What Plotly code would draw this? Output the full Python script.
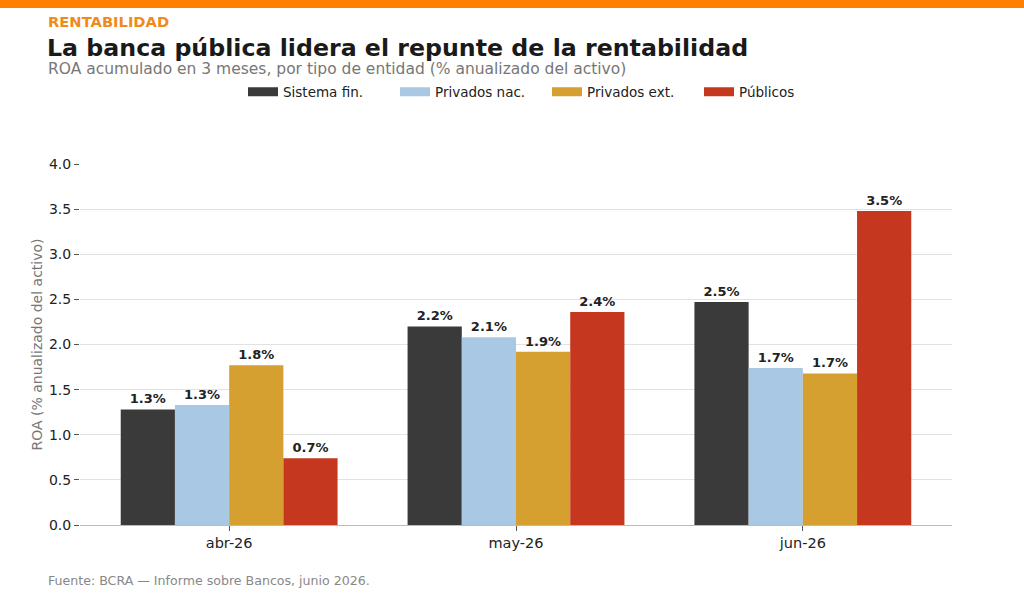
import plotly.graph_objects as go

meses = ["abr-26", "may-26", "jun-26"]
series = ["Sistema fin.", "Privados nac.", "Privados ext.", "Públicos"]
sistema = [1.28, 2.20, 2.47]
privados_nac = [1.33, 2.08, 1.74]
privados_ext = [1.77, 1.92, 1.68]
publicos = [0.74, 2.36, 3.48]
colores = ["#3a3a3a", "#a8c8e4", "#d6a030", "#c5381f"]

W, H = 1024, 597
L, R, T, B = 80, 72, 164, 72
PW, PH = W - L - R, H - T - B


def px(x):
    return (x - L) / PW


def py(y):
    return (H - B - y) / PH


FONT = "DejaVu Sans"

fig = go.Figure()
for nombre, valores, color in zip(series, [sistema, privados_nac, privados_ext, publicos], colores):
    fig.add_trace(
        go.Bar(
            x=meses,
            y=valores,
            name=nombre,
            showlegend=False,
            marker=dict(color=color, line=dict(width=0)),
            texttemplate="<b>%{y:.1f}%</b>",
            textposition="outside",
            textfont=dict(size=13, color="#222222", family=FONT),
            cliponaxis=False,
        )
    )

# entradas de leyenda con rectangulos anchos, como en el original
for nombre, color in zip(series, colores):
    fig.add_trace(
        go.Scatter(
            x=[None], y=[None], mode="lines", name=nombre,
            line=dict(color=color, width=9), hoverinfo="skip",
        )
    )

fig.update_layout(
    width=W,
    height=H,
    margin=dict(l=L, r=R, t=T, b=B),
    paper_bgcolor="white",
    plot_bgcolor="white",
    font=dict(family=FONT, color="#222222"),
    barmode="group",
    bargap=0.244,
    bargroupgap=0,
    showlegend=True,
    legend=dict(
        orientation="h",
        x=px(243),
        xanchor="left",
        y=py(92),
        yanchor="middle",
        font=dict(size=13.5, color="#222222"),
        itemwidth=30,
        entrywidth=107,
        traceorder="normal",
    ),
    xaxis=dict(
        range=[-0.52, 2.52],
        showgrid=False,
        showline=True,
        linecolor="#bbbbbb",
        linewidth=1,
        ticks="outside",
        ticklen=5,
        tickcolor="#555555",
        tickfont=dict(size=14.5, color="#222222"),
    ),
    yaxis=dict(
        range=[0, 4.0],
        tickvals=[0, 0.5, 1.0, 1.5, 2.0, 2.5, 3.0, 3.5, 4.0],
        tickformat=".1f",
        showgrid=True,
        gridcolor="#e2e2e2",
        gridwidth=1,
        zeroline=False,
        showline=False,
        ticks="outside",
        ticklen=5,
        tickcolor="#555555",
        tickfont=dict(size=14, color="#222222"),
        title=dict(
            text="ROA (% anualizado del activo)",
            font=dict(size=14, color="#777777"),
            standoff=3,
        ),
    ),
)

fig.add_shape(
    type="rect", xref="paper", yref="paper",
    x0=px(0), x1=px(W), y0=py(8), y1=py(0),
    fillcolor="#ff8000", line=dict(width=0), layer="above",
)

fig.add_annotation(
    text="<b>RENTABILIDAD</b>", xref="paper", yref="paper",
    x=px(46), y=py(21), xanchor="left", yanchor="middle", showarrow=False,
    font=dict(size=14.7, color="#f08a1c"),
)
fig.add_annotation(
    text="<b>La banca pública lidera el repunte de la rentabilidad</b>",
    xref="paper", yref="paper",
    x=px(45), y=py(48), xanchor="left", yanchor="middle", showarrow=False,
    font=dict(size=23.7, color="#1a1a1a"),
)
fig.add_annotation(
    text="ROA acumulado en 3 meses, por tipo de entidad (% anualizado del activo)",
    xref="paper", yref="paper",
    x=px(46), y=py(69), xanchor="left", yanchor="middle", showarrow=False,
    font=dict(size=15.5, color="#777777"),
)
fig.add_annotation(
    text="Fuente: BCRA — Informe sobre Bancos, junio 2026.",
    xref="paper", yref="paper",
    x=px(46), y=py(580), xanchor="left", yanchor="middle", showarrow=False,
    font=dict(size=12.6, color="#888888"),
)

fig.write_html(
    "out.html",
    config={"displayModeBar": False},
    post_script="document.body.style.margin='0';",
)
